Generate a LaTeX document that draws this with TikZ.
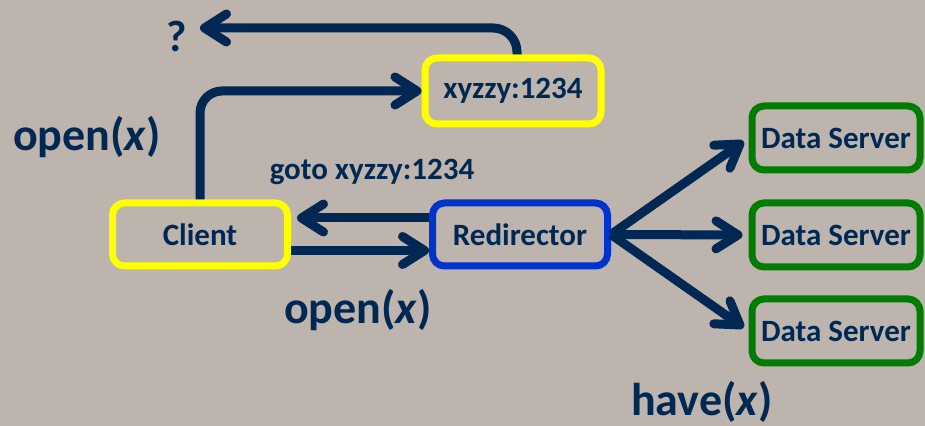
\documentclass[tikz,border=0pt]{standalone}
\usepackage{fontspec}
\setmainfont{Carlito}
\usetikzlibrary{arrows.meta, positioning}
\definecolor{bgstone}{RGB}{188,180,173}
\definecolor{navytext}{RGB}{0,40,82}
\definecolor{clientyellow}{RGB}{255,255,0}
\definecolor{redirblue}{RGB}{0,50,205}
\definecolor{servergreen}{RGB}{0,125,0}

\begin{document}
\begin{tikzpicture}[x=0.5pt, y=-0.5pt,
    box/.style={draw, line width=3.5pt, rounded corners=6pt, inner sep=0pt,
      minimum width=87.5pt, minimum height=31.5pt, text=navytext,
      font=\fontsize{15.5}{18}\selectfont\bfseries},
    lbl/.style={inner sep=0pt, text=navytext, font=\fontsize{23}{27}\selectfont\bfseries},
    arr/.style={navytext, line width=4.5pt,
      -{Straight Barb[length=11pt, width=14pt, round]}}]
  % background
  \fill[bgstone] (0,0) rectangle (925,426);
  \useasboundingbox (0,0) rectangle (925,426);

  % Client and Redirector
  \node[box, draw=clientyellow] (client) at (200,234.5) {Client};
  \node[box, draw=redirblue] (redir) at (520,234.5) {Redirector};

  % redirected address
  \node[box, draw=clientyellow, minimum width=88pt, minimum height=33pt]
    (xyzzy) at (513,91) {xyzzy:1234};

  % Data servers
  \node[box, draw=servergreen, minimum width=84pt, minimum height=32pt]
    (ds1) at (836,138) {Data Server};
  \node[box, draw=servergreen, minimum width=84pt, minimum height=32pt]
    (ds2) at (836,235) {Data Server};
  \node[box, draw=servergreen, minimum width=84pt, minimum height=32pt]
    (ds3) at (836,331) {Data Server};

  % labels
  \node[lbl] (openup) at (87,137) {open(\textit{x})};
  \node[lbl] (opendown) at (358,310) {open(\textit{x})};
  \node[lbl] (have) at (702,402) {have(\textit{x})};
  \node[inner sep=0pt, text=navytext, font=\fontsize{15.5}{18}\selectfont\bfseries]
    (goto) at (372,172) {goto xyzzy:1234};
  \node[inner sep=0pt, text=navytext, font=\fontsize{22}{26}\selectfont\bfseries]
    (qmark) at (177,36) {?};
  \coordinate (qend) at (200,28);

  % arrows
  \draw[arr, rounded corners=11pt] (client.north) |- (xyzzy.west);
  \draw[arr, rounded corners=12pt] ([xshift=2pt]xyzzy.north) |- (qend);
  \draw[arr, shorten >=3pt] ([yshift=8.25pt]redir.west) -- ([yshift=8.25pt]client.east);
  \draw[arr] ([yshift=-8pt]client.east) -- ([yshift=-8pt]redir.west);
  \foreach \ds in {ds1,ds2,ds3}
    \draw[arr, shorten >=3pt] (redir.east) -- (\ds.west);
\end{tikzpicture}
\end{document}
